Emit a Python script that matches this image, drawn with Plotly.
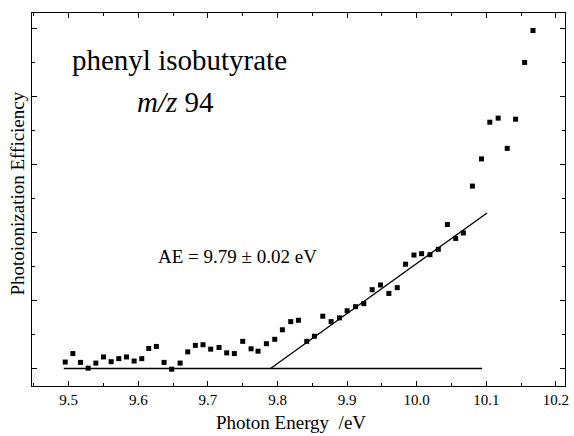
import plotly.graph_objects as go

# Photon energy (eV) and photoionization efficiency (arb. units)
energy = [9.495, 9.506, 9.517, 9.528, 9.539, 9.550, 9.561, 9.572, 9.583, 9.594,
          9.605, 9.615, 9.626, 9.637, 9.648, 9.660, 9.671, 9.682, 9.693, 9.704,
          9.716, 9.727, 9.738, 9.750, 9.762, 9.772, 9.784, 9.796, 9.807, 9.819,
          9.830, 9.842, 9.853, 9.865, 9.877, 9.889, 9.900, 9.912, 9.924, 9.936,
          9.948, 9.960, 9.972, 9.984, 9.996, 10.007, 10.019, 10.031, 10.044, 10.056,
          10.067, 10.080, 10.093, 10.105, 10.117, 10.130, 10.142, 10.155, 10.167]
efficiency = [0.19, 0.44, 0.18, 0.01, 0.16, 0.34, 0.20, 0.29, 0.34, 0.22,
              0.29, 0.59, 0.65, 0.18, -0.02, 0.16, 0.49, 0.68, 0.70, 0.57,
              0.62, 0.46, 0.44, 0.80, 0.58, 0.51, 0.73, 0.86, 1.14, 1.38,
              1.42, 0.80, 0.95, 1.54, 1.38, 1.49, 1.70, 1.82, 1.91, 2.32,
              2.46, 2.21, 2.38, 3.07, 3.34, 3.38, 3.35, 3.51, 4.24, 3.83,
              3.99, 5.37, 6.17, 7.25, 7.37, 6.48, 7.34, 9.01, 9.95]

# Baseline and linear onset fit
baseline_x = [9.493, 10.094]
baseline_y = [0.0, 0.0]
fit_x = [9.790, 10.101]
fit_y = [0.0, 4.58]

x_tick_vals = [9.5, 9.6, 9.7, 9.8, 9.9, 10.0, 10.1, 10.2]
x_tick_text = ["9.5", "9.6", "9.7", "9.8", "9.9", "10.0", "10.1", "10.2"]

FONT = "Liberation Serif, Times New Roman, serif"

fig = go.Figure()
fig.add_trace(go.Scatter(x=baseline_x, y=baseline_y, mode="lines",
                         line=dict(color="black", width=1.3), hoverinfo="skip"))
fig.add_trace(go.Scatter(x=fit_x, y=fit_y, mode="lines",
                         line=dict(color="black", width=1.3), hoverinfo="skip"))
fig.add_trace(go.Scatter(x=energy, y=efficiency, mode="markers",
                         marker=dict(symbol="square", size=5, color="black",
                                     line=dict(width=0))))

fig.update_layout(
    width=574, height=436,
    margin=dict(l=32, r=5, t=13, b=50),
    paper_bgcolor="white", plot_bgcolor="white",
    showlegend=False,
    font=dict(family=FONT, color="black", size=15),
    xaxis=dict(range=[9.4473, 10.213], showgrid=False, zeroline=False,
               showline=True, linecolor="black", linewidth=1.2, mirror="allticks",
               ticks="inside", ticklen=5, tickwidth=1, tickcolor="black",
               tickvals=x_tick_vals, ticktext=x_tick_text,
               tickfont=dict(family=FONT, size=15, color="black"),
               minor=dict(dtick=0.05, tick0=9.5, ticks="inside", ticklen=2.5,
                          tickwidth=1, tickcolor="black", showgrid=False)),
    yaxis=dict(range=[-0.515, 10.465], showgrid=False, zeroline=False,
               showline=True, linecolor="black", linewidth=1.2, mirror="allticks",
               ticks="inside", ticklen=5, tickwidth=1, tickcolor="black",
               tick0=0, dtick=2, showticklabels=False,
               minor=dict(dtick=1, tick0=0, ticks="inside", ticklen=2.5,
                          tickwidth=1, tickcolor="black", showgrid=False)),
    annotations=[
        dict(text="phenyl isobutyrate", xref="paper", yref="paper",
             x=0.2775, y=0.873, xanchor="center", yanchor="middle",
             showarrow=False, font=dict(family=FONT, size=29, color="black")),
        dict(text="<i>m/z</i> 94", xref="paper", yref="paper",
             x=0.270, y=0.761, xanchor="center", yanchor="middle",
             showarrow=False, font=dict(family=FONT, size=29, color="black")),
        dict(text="AE = 9.79 ± 0.02 eV", xref="paper", yref="paper",
             x=0.3855, y=0.346, xanchor="center", yanchor="middle",
             showarrow=False, font=dict(family=FONT, size=19, color="black")),
        dict(text="Photon Energy\u00a0 /eV", xref="paper", yref="paper",
             x=(292.5 - 32) / 537, y=(386 - 422) / 373, xanchor="center", yanchor="middle",
             showarrow=False, font=dict(family=FONT, size=19, color="black")),
        dict(text="Photoionization Efficiency", xref="paper", yref="paper",
             x=(17 - 32) / 537, y=(386 - 193.5) / 373, xanchor="center", yanchor="middle",
             textangle=-90, showarrow=False, font=dict(family=FONT, size=19, color="black")),
    ],
)

fig.write_html("out.html")
